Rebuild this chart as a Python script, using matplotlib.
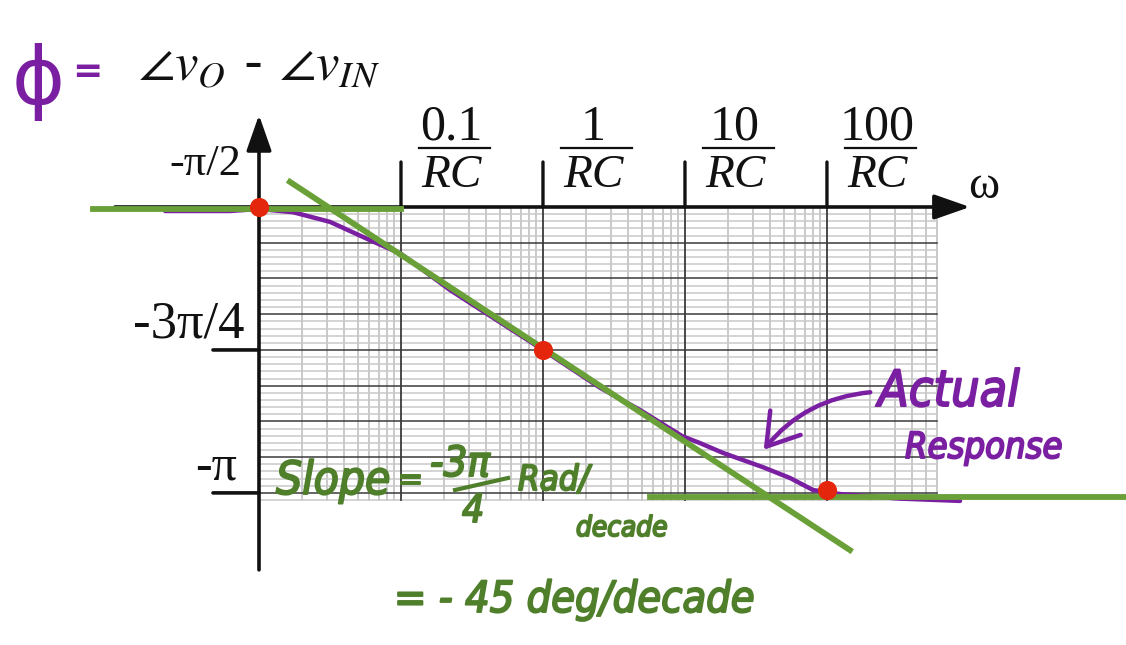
#!/usr/bin/env python3
"""
Phase plot of an RC network: straight-line asymptotes against the actual response.
"""

import matplotlib

matplotlib.use("Agg")

import matplotlib.pyplot as plt
from matplotlib import patheffects
from matplotlib.patches import FancyArrowPatch

plt.rcParams["mathtext.fontset"] = "stix"

# frequency in multiples of 1/RC, phase in multiples of pi
decade_w = [0.1, 1, 10, 100]
decade_num = ["0.1", "1", "10", "100"]
tick_phase = [-0.5, -0.75, -1.0]
tick_labels = ["-π/2", "-3π/4", "-π"]

w_actual = [0.00218, 0.00625, 0.01, 0.0173, 0.0316, 0.0605, 0.1, 0.221, 1.0,
            2.52, 4.82, 9.6, 12.8, 18.5, 35.4, 55.0, 79.8, 124, 327, 865]
phase_actual = [-0.507, -0.507, -0.5035, -0.509, -0.526, -0.558, -0.582, -0.645,
                -0.75, -0.816, -0.855, -0.901, -0.913, -0.930, -0.955, -0.974,
                -0.995, -1.002, -1.010, -1.014]

w_low = [6.8e-4, 0.1]
phase_low = [-0.504, -0.504]
w_slope = [0.0165, 145]
phase_slope = [-0.456, -1.10]
w_high = [5.7, 1.27e4]
phase_high = [-1.007, -1.007]

w_marks = [0.01, 1, 100]
phase_marks = [-0.5, -0.75, -0.995]

COLORS = {
    "ink": "#111111",
    "purple": "#7a1fa2",
    "green": "#6aa038",
    "hand": "#4f7f2a",
    "red": "#e3260c",
    "grid_major": "#3a3a3a",
    "grid_minor": "#c9c9c9",
}

W, H = 1126, 645
PX = 72 / 100  # points per pixel at dpi 100


def at(x, y):
    return x / W, 1 - y / H


def marker_pen(color, width=1.4):
    return [patheffects.withStroke(linewidth=width, foreground=color)]


fig = plt.figure(figsize=(W / 100, H / 100), dpi=100)
ax = fig.add_axes([0, 0, 1, 1])
ax.set_xscale("log")
ax.set_xlim(10 ** -3.824, 10 ** 4.106)
ax.set_ylim(-1.266, -0.138)
ax.axis("off")

# semi-log graph paper
w_left, w_right = 0.01, 600
ph_top, ph_bot = -0.5, -1.0125
for d in [0.01, 0.1, 1, 10, 100]:
    for k in range(1, 10):
        w = d * k
        if w > w_right:
            break
        major = k == 1
        ax.plot([w, w], [ph_top, ph_bot],
                color=COLORS["grid_major"] if major else COLORS["grid_minor"],
                lw=1.3 if major else 1.4, zorder=1.5 if major else 1)
for i in range(42):
    ph = -0.5 - i / 80
    major = i % 5 == 0
    ax.plot([w_left, w_right], [ph, ph],
            color=COLORS["grid_major"] if major else COLORS["grid_minor"],
            lw=1.1, zorder=1.5 if major else 1)

# axes with arrows
head = "-|>,head_length=1.0,head_width=0.35"
ax.annotate("", xy=(0.01, -0.339), xytext=(0.01, -1.1346),
            arrowprops=dict(arrowstyle=head, lw=2.6, color=COLORS["ink"],
                            shrinkA=0, shrinkB=0, mutation_scale=22), zorder=3)
ax.annotate("", xy=(1016, -0.5), xytext=(9.68e-4, -0.5),
            arrowprops=dict(arrowstyle=head, lw=2.6, color=COLORS["ink"],
                            shrinkA=0, shrinkB=0, mutation_scale=22), zorder=3)

# frequency ticks, labelled k / RC
for w, num in zip(decade_w, decade_num):
    ax.annotate("", xy=(w, -0.5), xytext=(0, 45 * PX), textcoords="offset points",
                arrowprops=dict(arrowstyle="-", lw=2.4, color=COLORS["ink"],
                                shrinkA=0, shrinkB=0), zorder=3)
    ax.annotate(num, xy=(w, -0.5), xytext=(50 * PX, 67 * PX), textcoords="offset points",
                ha="center", va="baseline", fontsize=36, family="Liberation Serif",
                color=COLORS["ink"])
    ax.annotate("RC", xy=(w, -0.5), xytext=(50 * PX, 20 * PX), textcoords="offset points",
                ha="center", va="baseline", fontsize=34, family="Liberation Serif",
                style="italic", color=COLORS["ink"])
    # fraction bar
    xd, yd = ax.transData.transform((w, -0.5))
    fig.add_artist(plt.Line2D([(xd + 18) / W, (xd + 89) / W],
                              [(yd + 59) / H, (yd + 59) / H],
                              color=COLORS["ink"], lw=1.6))

fig.text(*at(968, 198), "ω", fontsize=34, family="Liberation Serif",
         va="baseline", ha="left", color=COLORS["ink"])

# phase ticks
label_specs = [(-18, 32, 32), (-14, 12, 38), (-22, 13, 36)]
for ph, lab, (dx, dy, fs) in zip(tick_phase, tick_labels, label_specs):
    if ph != -0.5:
        ax.annotate("", xy=(0.01, ph), xytext=(-46 * PX, 0), textcoords="offset points",
                    arrowprops=dict(arrowstyle="-", lw=2.6, color=COLORS["ink"],
                                    shrinkA=0, shrinkB=0))
    ax.annotate(lab, xy=(0.01, ph), xytext=(dx * PX, dy * PX), textcoords="offset points",
                ha="right", va="baseline", fontsize=fs, family="Liberation Serif",
                color=COLORS["ink"])

# actual response and asymptotes
ax.plot(w_actual, phase_actual, color=COLORS["purple"], lw=3.2, zorder=4,
        solid_capstyle="round", solid_joinstyle="round")
ax.plot(w_low, phase_low, color=COLORS["green"], lw=4.2, zorder=5)
ax.plot(w_slope, phase_slope, color=COLORS["green"], lw=4.2, zorder=5)
ax.plot(w_high, phase_high, color=COLORS["green"], lw=4.2, zorder=5)
ax.scatter(w_marks, phase_marks, s=190, color=COLORS["red"], zorder=6, linewidths=0)

# heading
fig.text(*at(138, 80), r"$\angle v_O$ - $\angle v_{IN}$", fontsize=38,
         va="baseline", ha="left", color=COLORS["ink"])
fig.text(*at(12, 104), "ϕ", fontsize=58, family="DejaVu Sans", va="baseline",
         ha="left", color=COLORS["purple"])
fig.text(*at(72, 82), "=", fontsize=26, family="DejaVu Sans", va="baseline",
         ha="left", color=COLORS["purple"], fontweight="bold")

# handwritten notes
hand = dict(family="DejaVu Sans", style="italic", fontstretch="condensed",
            va="baseline", ha="left")
green_pen = marker_pen(COLORS["hand"])
purple_pen = marker_pen(COLORS["purple"])
fig.text(*at(276, 494), "Slope", fontsize=33, color=COLORS["hand"],
         path_effects=green_pen, **hand)
fig.text(*at(398, 490), "=", fontsize=24, color=COLORS["hand"],
         path_effects=green_pen, **hand)
fig.text(*at(430, 476), "-3π", fontsize=30, color=COLORS["hand"],
         path_effects=green_pen, **hand)
fig.add_artist(plt.Line2D([455 / W, 508 / W], [1 - 490 / H, 1 - 478 / H],
                          color=COLORS["hand"], lw=3))
fig.text(*at(462, 522), "4", fontsize=28, color=COLORS["hand"],
         path_effects=green_pen, **hand)
fig.text(*at(518, 490), "Rad/", fontsize=25, color=COLORS["hand"],
         path_effects=green_pen, **hand)
fig.text(*at(576, 536), "decade", fontsize=20, color=COLORS["hand"],
         path_effects=green_pen, **hand)
fig.text(*at(394, 612), "= - 45 deg/decade", fontsize=31, color=COLORS["hand"],
         path_effects=green_pen, **hand)

fig.text(*at(878, 406), "Actual", fontsize=36, color=COLORS["purple"],
         path_effects=purple_pen, **hand)
fig.text(*at(905, 458), "Response", fontsize=26, color=COLORS["purple"],
         path_effects=purple_pen, **hand)
fig.add_artist(FancyArrowPatch(at(873, 392), at(762, 452), transform=fig.transFigure,
                               arrowstyle="->,head_length=1.1,head_width=0.7",
                               mutation_scale=20, connectionstyle="arc3,rad=0.22",
                               lw=3.2, color=COLORS["purple"]))

fig.savefig("out.png", dpi=100, facecolor="white")
